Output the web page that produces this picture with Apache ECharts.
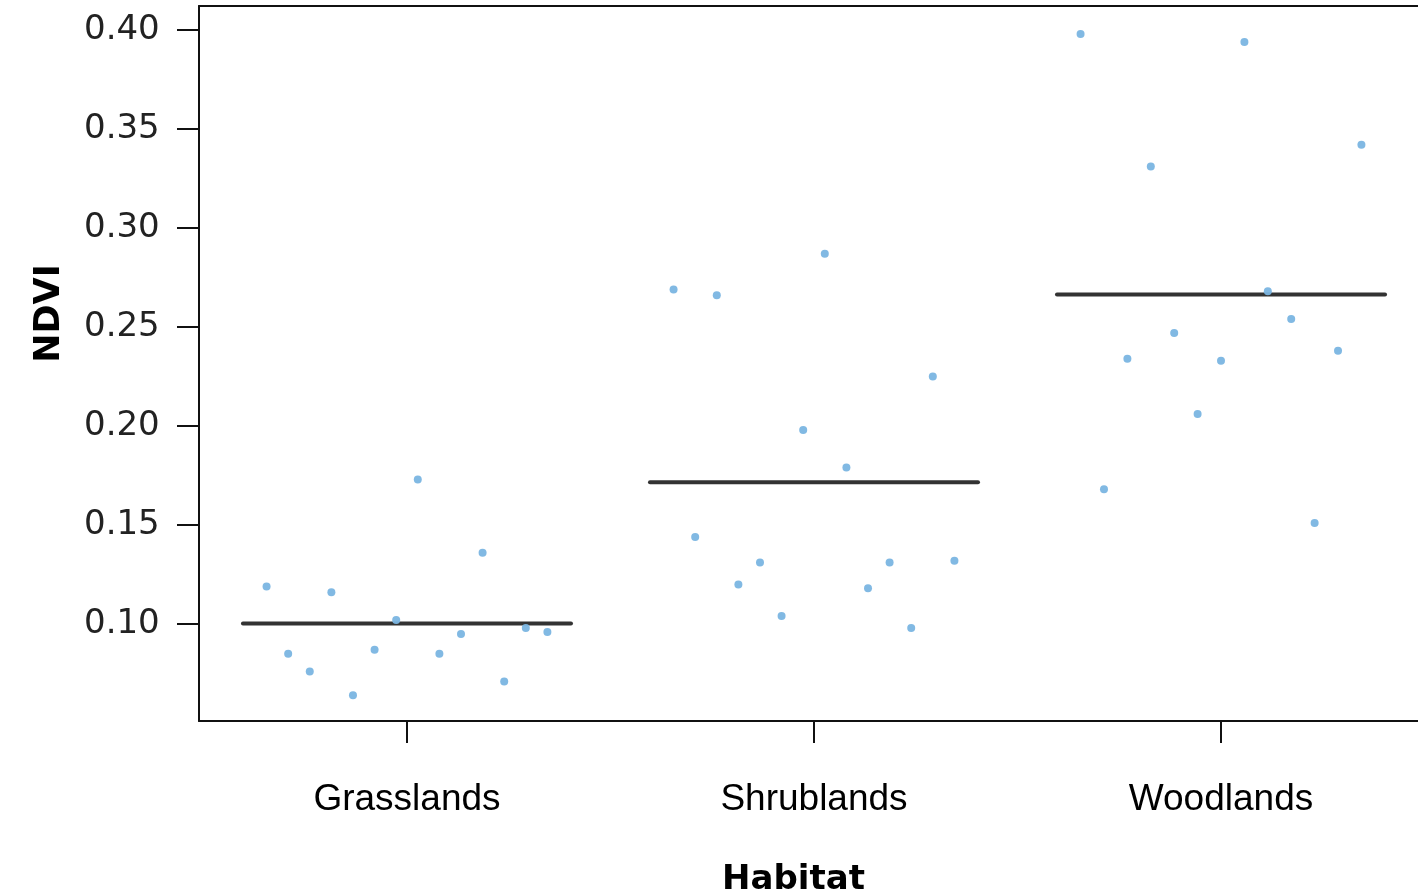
<!DOCTYPE html>
<html><head><meta charset="utf-8">
<script src="https://cdn.jsdelivr.net/npm/echarts@6/dist/echarts.min.js"></script>
<style>html,body{margin:0;padding:0;background:#fff}#c{width:1418px;height:894px}</style>
</head><body><div id="c"></div>
<script>
const categories = ['Grasslands', 'Shrublands', 'Woodlands'];
const grasslands = [0.119, 0.085, 0.076, 0.116, 0.064, 0.087, 0.102, 0.173, 0.085, 0.095, 0.136, 0.071, 0.098, 0.096];
const shrublands = [0.269, 0.144, 0.266, 0.120, 0.131, 0.104, 0.198, 0.287, 0.179, 0.118, 0.131, 0.098, 0.225, 0.132];
const woodlands = [0.398, 0.168, 0.234, 0.331, 0.247, 0.206, 0.233, 0.394, 0.268, 0.254, 0.151, 0.238, 0.342];
const yTicks = [0.10, 0.15, 0.20, 0.25, 0.30, 0.35, 0.40];
const groups = [grasslands, shrublands, woodlands];

const SPREAD = 0.345, HALF = 0.403;
const pts = [], means = [];
groups.forEach((vals, g) => {
  const c = g + 1, n = vals.length;
  vals.forEach((v, i) => pts.push([c - SPREAD + i * (2 * SPREAD) / (n - 1), v]));
  const m = vals.reduce((a, b) => a + b, 0) / n;
  means.push({type: 'line', data: [[c - HALF, m], [c + HALF, m]], showSymbol: false, symbol: 'none',
    lineStyle: {color: '#333', width: 4, cap: 'round'}, silent: true, z: 2, animation: false});
});

const chart = echarts.init(document.getElementById('c'));
const axisLineStyle = {color: '#111', width: 2};
chart.setOption({
  animation: false,
  grid: {left: 199, top: 6, right: 0, height: 715, show: false, containLabel: false, outerBoundsMode: 'none'},
  xAxis: [{
    type: 'value', min: 0.489, max: 3.484,
    splitLine: {show: false},
    axisLine: {show: true, onZero: false, lineStyle: axisLineStyle},
    axisTick: {show: true, length: 22, customValues: [1, 2, 3], lineStyle: axisLineStyle},
    axisLabel: {customValues: [1, 2, 3], formatter: v => categories[Math.round(v) - 1] || '',
      fontFamily: 'Liberation Sans', fontSize: 37, color: '#000', margin: 60},
    name: 'Habitat', nameLocation: 'middle', nameGap: 142,
    nameTextStyle: {fontFamily: 'DejaVu Sans', fontWeight: 'bold', fontSize: 34, color: '#000', padding: [0, 30, 0, 0]}
  }, {
    type: 'value', min: 0.489, max: 3.484, position: 'top',
    splitLine: {show: false}, axisTick: {show: false}, axisLabel: {show: false},
    axisLine: {show: true, onZero: false, lineStyle: axisLineStyle}
  }],
  yAxis: {
    type: 'value', min: 0.05101, max: 0.41212,
    splitLine: {show: false},
    axisLine: {show: true, onZero: false, lineStyle: axisLineStyle},
    axisTick: {show: true, length: 22, customValues: yTicks, lineStyle: axisLineStyle},
    axisLabel: {customValues: yTicks, formatter: v => v.toFixed(2), align: 'left', margin: 115,
      fontFamily: 'DejaVu Sans', fontSize: 34, color: '#222'},
    name: 'NDVI', nameLocation: 'middle', nameGap: 132, nameRotate: 90,
    nameTextStyle: {fontFamily: 'DejaVu Sans', fontWeight: 'bold', fontSize: 35, color: '#000', padding: [0, 0, 0, 100]}
  },
  series: [...means, {type: 'scatter', data: pts, symbolSize: 8, z: 3,
    itemStyle: {color: '#7ab5e2', opacity: 0.95}, animation: false}]
});
</script></body></html>
